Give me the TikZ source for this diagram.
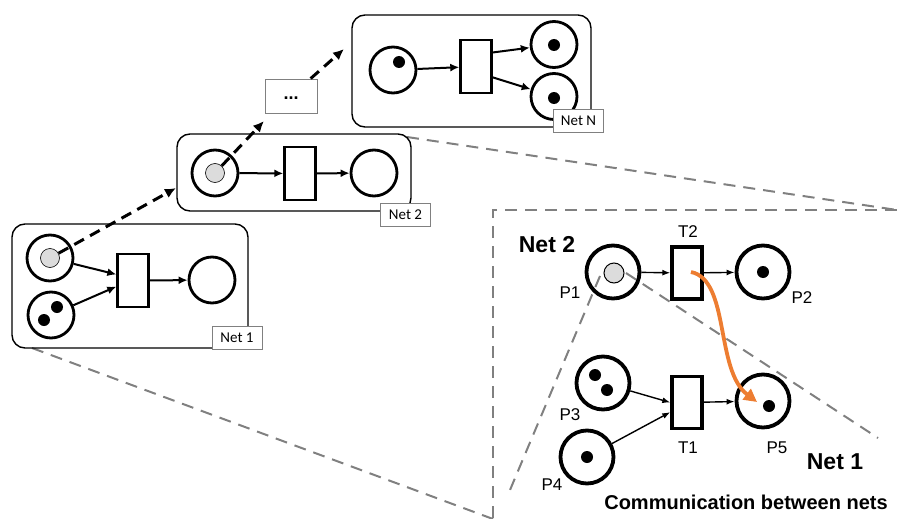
\documentclass[tikz,border=0pt]{standalone}
\usepackage{fontspec}
\setmainfont{Liberation Sans}
\newfontfamily\boxfont{Carlito}
\usetikzlibrary{arrows.meta}
\definecolor{tokengray}{RGB}{220,220,220}
\definecolor{zoomgray}{RGB}{128,128,128}
\definecolor{msorange}{RGB}{237,125,49}
\tikzset{
  place/.style={circle, draw, line width=2.8pt, minimum size=46pt, inner sep=0pt},
  bigplace/.style={circle, draw, line width=3.8pt, minimum size=53pt, inner sep=0pt},
  trans/.style={rectangle, draw, fill=white, line width=2.4pt, minimum width=31pt, minimum height=53pt, inner sep=0pt},
  bigtrans/.style={rectangle, draw, line width=3.4pt, minimum width=30pt, minimum height=52pt, inner sep=0pt},
  token/.style={circle, fill, inner sep=0pt, minimum size=12pt},
  graytoken/.style={circle, draw, fill=tokengray, line width=0.6pt, inner sep=0pt, minimum size=19pt},
  netbox/.style={rounded corners=13pt, line width=1.4pt},
  netlabel/.style={draw=zoomgray, fill=white, line width=0.9pt, font=\boxfont\fontsize{15}{17}\selectfont, minimum width=50pt, minimum height=23pt, inner sep=0pt},
  arc/.style={line width=2pt, -{Latex[length=9pt,width=8pt]}},
  thinarc/.style={line width=1.4pt, -{Latex[length=8pt,width=6pt]}},
  flow/.style={line width=3pt, dash pattern=on 11pt off 7pt, -{Latex[length=11pt,width=10pt]}},
  zoomline/.style={zoomgray, line width=2pt, dash pattern=on 12pt off 8pt},
  plabel/.style={font=\fontsize{17}{19}\selectfont},
  netname/.style={font=\bfseries\fontsize{23}{26}\selectfont}
}
\begin{document}
\begin{tikzpicture}[x=1pt, y=-1pt]
\useasboundingbox (0,0) rectangle (897,519);

% zoom lines and frame
\draw[zoomline] (32,348) -- (493,519);
\draw[zoomline] (407,137) -- (897,210);
\draw[zoomline] (897,210) -- (493,210) -- (493,519);

% Net 1
\draw[netbox] (12,224) rectangle (248,348);
\node[place] (n1a) at (50,258) {};
\node[place] (n1b) at (51,315) {};
\node[trans] (t1) at (133,280.5) {};
\node[place] (n1c) at (212,280) {};
\node[graytoken] (tok1) at (50,258) {};
\node[token] at (57,307) {};
\node[token] at (44,320) {};
\draw[arc] (n1a) -- (t1.160);
\draw[arc] (n1b) -- (t1.200);
\draw[arc] (t1) -- (n1c);
\node[netlabel] (lab1) at (237,337.5) {Net 1};

% Net 2
\draw[netbox] (177,134) rectangle (411,211);
\node[place] (n2a) at (215,173) {};
\node[trans] (t2) at (300,173.5) {};
\node[place] (n2c) at (374,173) {};
\node[graytoken] (tok2) at (215,173) {};
\draw[arc] (n2a) -- (t2);
\draw[arc] (t2) -- (n2c);
\node[netlabel] (lab2) at (405.5,215) {Net 2};

% Net N
\draw[netbox] (352,15) rectangle (591,127);
\node[place] (nNa) at (393,70) {};
\node[trans] (tN) at (476,66.5) {};
\node[place] (nNb) at (554,44.5) {};
\node[place] (nNc) at (554,96.5) {};
\node[token] at (399,62) {};
\node[token] at (554,45) {};
\node[token] at (554,98) {};
\draw[arc] (nNa) -- (tN);
\draw[arc] (tN.40) -- (nNb);
\draw[arc] (tN.-33) -- (nNc);
\node[netlabel] (labN) at (578.5,121) {Net N};

% dots box
\node[draw=zoomgray, line width=0.9pt, minimum width=52pt, minimum height=34pt, inner sep=0pt] (dots) at (291,96) {};
\node[font=\bfseries\fontsize{18}{20}\selectfont] (dotstext) at (291,98) {...};

% passing between nets
\coordinate (in2) at (176,188);
\coordinate (indots) at (264,121);
\coordinate (inN) at (344,49);
\draw[flow] (tok1) -- (in2);
\draw[flow] (tok2) -- (indots);
\draw[flow] (dots) -- (inN);

% communication between nets
\node[bigplace] (p1) at (613,272) {};
\node[graytoken, minimum size=20pt, line width=1pt] (tokp1) at (614,273) {};
\node[bigtrans] (bt2) at (687,273) {};
\node[bigplace] (p2) at (763,272) {};
\node[token] at (763,272) {};
\node[bigplace] (p3) at (603,383) {};
\node[token] at (595,375) {};
\node[token] at (607,390) {};
\node[bigplace] (p4) at (587,457) {};
\node[token] at (587,457) {};
\node[bigtrans] (bt1) at (687,402.5) {};
\node[bigplace] (p5) at (763,401) {};
\node[token] at (769,406) {};
\draw[thinarc] (p1) -- (bt2);
\draw[thinarc] (bt2) -- (p2);
\draw[thinarc] (p3) -- (bt1.west);
\draw[thinarc] (p4) -- (bt1.210);
\draw[thinarc] (bt1) -- (p5);
\draw[msorange, line width=3.8pt, -{Triangle[length=13pt,width=13pt]}] (691,272) .. controls (730,280) and (715,370) .. (757,402);

\node[plabel] (lp1) at (570,293) {P1};
\node[plabel] (lp2) at (802,298) {P2};
\node[plabel] (lp3) at (570,415) {P3};
\node[plabel] (lp4) at (552,485) {P4};
\node[plabel] (lt2) at (688,232) {T2};
\node[plabel] (lt1) at (688,448) {T1};
\node[plabel] (lp5) at (777,448) {P5};
\node[netname] (net2) at (547,245) {Net 2};
\node[netname] (net1) at (835,462) {Net 1};
\node[netname, font=\bfseries\fontsize{20}{24}\selectfont] (comm) at (746,502) {Communication between nets};

\draw[zoomline] (600,276) -- (510,490);
\draw[zoomline] (626,273) -- (878,438);
\end{tikzpicture}
\end{document}
